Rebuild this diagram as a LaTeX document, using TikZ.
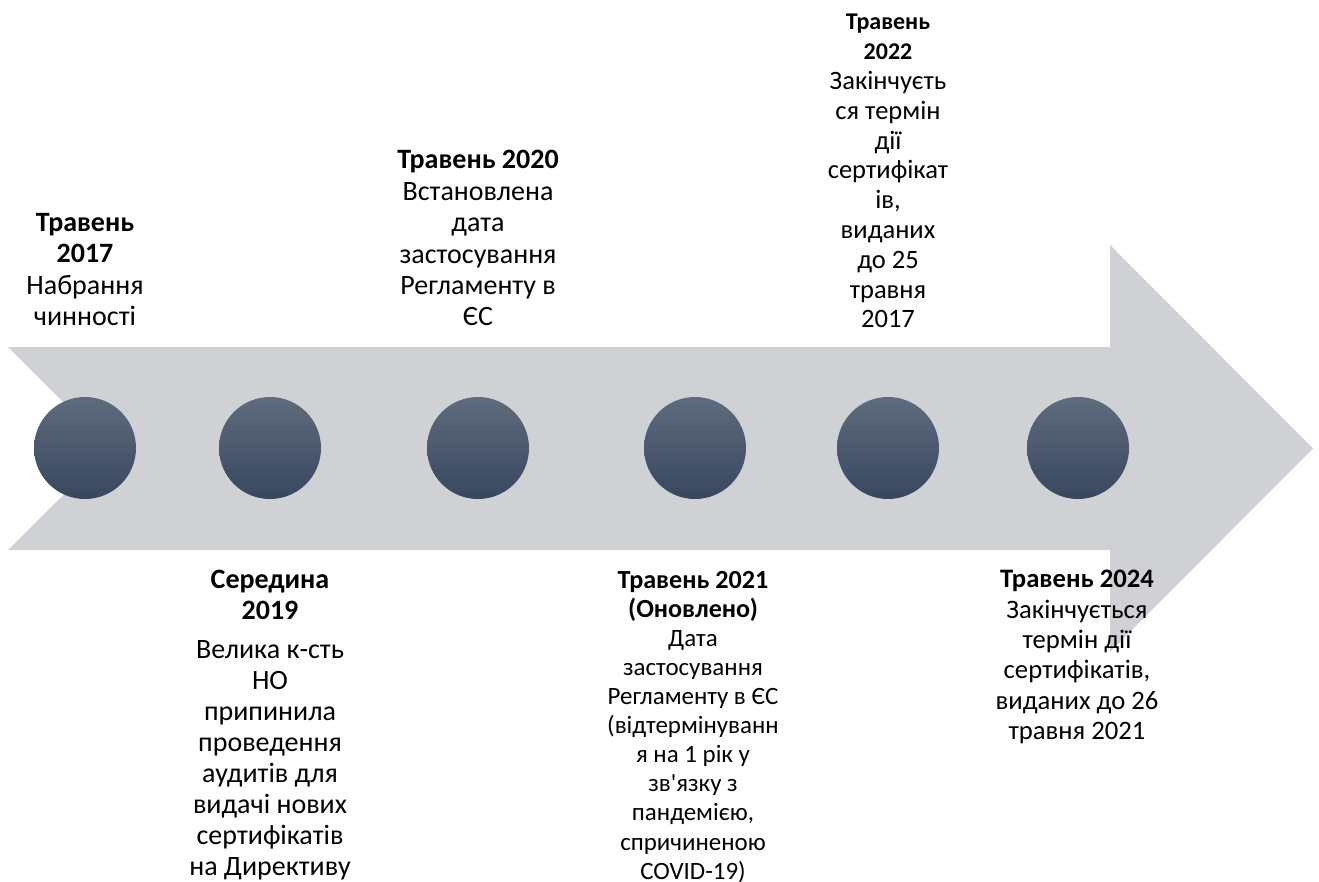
\documentclass[tikz,border=0pt]{standalone}
\usepackage{fontspec}
\setmainfont{Carlito}[Ligatures=TeXOff]
\definecolor{bandgray}{HTML}{D0D1D5}
\definecolor{dotTop}{HTML}{5F6B7D}
\definecolor{dotBot}{HTML}{38475F}
% heading line in a given size, keeping the block's line spacing
\newcommand{\hdsize}[2]{\textbf{\fontsize{#1}{\baselineskip}\selectfont #2}}
\begin{document}
\begin{tikzpicture}[x=0.75pt,y=-0.75pt,
  milestone/.style={circle, draw=none, inner sep=0pt, minimum size=76.5pt,
    top color=dotTop, bottom color=dotBot},
  stamp/.style={align=center, inner sep=0pt, anchor=north, text=black},
  big/.style={font=\fontsize{21}{23.6}\selectfont},
  lowA/.style={font=\fontsize{21}{23.2}\selectfont},
  lowB/.style={font=\fontsize{18.7}{21.8}\selectfont},
  lowC/.style={font=\fontsize{20}{22.8}\selectfont},
  small/.style={font=\fontsize{19.9}{22.35}\selectfont}
]
\useasboundingbox (0,0) rectangle (1319,881);

% timeline band with notched tail and arrow head
\fill[bandgray] (8,347) -- (1110,347) -- (1110,245) -- (1313,448.5)
  -- (1110,652) -- (1110,550) -- (8,550) -- (110,448.5) -- cycle;

% milestone dots
\node[milestone] (m1) at (85,448) {};
\node[milestone] (m2) at (270,448) {};
\node[milestone] (m3) at (478,448) {};
\node[milestone] (m4) at (695,448) {};
\node[milestone] (m5) at (888,448) {};
\node[milestone] (m6) at (1078,448) {};

% labels above the band
\node[stamp,big] (t1) at (85,213) {\textbf{Травень}\\\textbf{2017}\\Набрання\\чинності};
\node[stamp,big] (t3) at (478,150) {\textbf{Травень 2020}\\Встановлена\\дата\\застосування\\Регламенту в\\ЄС};
\node[stamp,small] (t5) at (888,14) {\hdsize{18}{Травень}\\\hdsize{18}{2022}\\Закінчуєть\\ся термін\\дії\\сертифікат\\ів,\\виданих\\до 25\\травня\\2017};

% labels below the band
\node[stamp,lowA] (t2) at (270,570) {\textbf{Середина}\\\textbf{2019}\\[6pt]Велика к-сть\\НО\\припинила\\проведення\\аудитів для\\видачі нових\\сертифікатів\\на Директиву};
\node[stamp,lowB] (t4) at (693,571) {\hdsize{19.6}{Травень 2021}\\\hdsize{19.6}{(Оновлено)}\\Дата\\застосування\\Регламенту в ЄС\\(відтермінуванн\\я на 1 рік у\\зв'язку з\\пандемією,\\спричиненою\\COVID-19)};
\node[stamp,lowC] (t6) at (1077,570) {\textbf{Травень 2024}\\Закінчується\\термін дії\\сертифікатів,\\виданих до 26\\травня 2021};
\end{tikzpicture}
\end{document}
